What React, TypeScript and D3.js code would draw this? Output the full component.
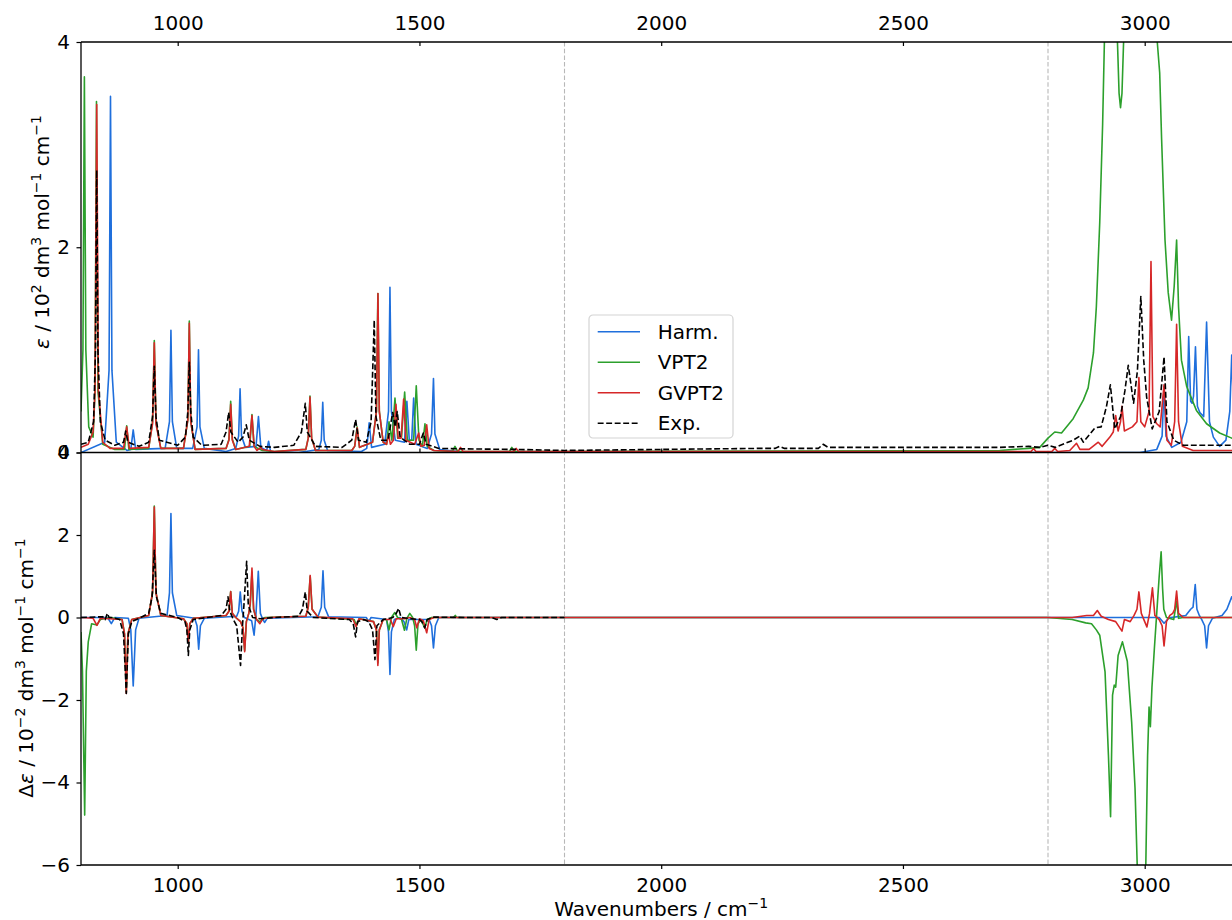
import { useEffect, useRef } from "react";
import * as d3 from "d3";

type Pt = [number, number];

// ---- data ----
const xTicks = [1000, 1500, 2000, 2500, 3000];
const yTicksTop = [0, 2, 4];
const yTicksBottom = [-6, -4, -2, 0, 2, 4];
const guideLines = [1800, 2800];
const seriesNames = ["Harm.", "VPT2", "GVPT2", "Exp."];

// epsilon / 10^2 dm3 mol-1 cm-1
const harmTop: Pt[] = [
  [800, 0], [849, 0.1], [858, 0.8], [861, 3.47], [864, 0.8], [873, 0.1],
  [895, 0.02], [903, 0.03], [908, 0.22], [913, 0.03],
  [974, 0.04], [983, 0.3], [986, 1.19], [989, 0.3], [998, 0.04],
  [1031, 0.04], [1040, 0.25], [1043, 1.0], [1046, 0.25], [1055, 0.04],
  [1100, 0.01], [1120, 0.04], [1126, 0.16], [1129, 0.62], [1132, 0.16], [1140, 0.05],
  [1162, 0.06], [1167, 0.35], [1172, 0.05], [1184, 0.02], [1188, 0.11], [1192, 0.01],
  [1250, 0], [1292, 0.03], [1297, 0.12], [1300, 0.49], [1303, 0.12], [1310, 0.02],
  [1380, 0.01], [1391, 0.04], [1396, 0.29], [1401, 0.05],
  [1428, 0.08], [1436, 0.4], [1439, 1.61], [1442, 0.4], [1450, 0.12],
  [1469, 0.1], [1474, 0.5], [1479, 0.12], [1484, 0.12], [1488, 0.53], [1493, 0.08],
  [1516, 0.04], [1525, 0.18], [1529, 0.72], [1532, 0.18], [1542, 0.03],
  [1600, 0], [2990, 0], [3025, 0.03], [3036, 0.16], [3040, 0.64], [3044, 0.16], [3056, 0.05],
  [3075, 0.1], [3087, 0.3], [3091, 1.13], [3095, 0.5], [3098, 0.48], [3101, 0.55], [3105, 1.03],
  [3109, 0.45], [3114, 0.39], [3122, 0.35], [3128, 1.27], [3134, 0.3], [3142, 0.15], [3155, 0.06],
  [3168, 0.12], [3176, 0.4], [3180, 0.95], [3184, 0.4], [3195, 0.1], [3200, 0.06],
];

const vpt2Top: Pt[] = [
  [800, 0.4], [804, 1.0], [807, 3.66], [810, 1.0], [816, 0.25], [825, 0.15],
  [829, 0.6], [832, 3.42], [835, 0.6], [845, 0.08], [870, 0.03], [890, 0.03], [894.5, 0.26], [899, 0.03],
  [940, 0.04], [948, 0.3], [951.6, 1.09], [955, 0.3], [965, 0.04],
  [1012, 0.04], [1021, 0.32], [1024, 1.28], [1027, 0.3], [1036, 0.03],
  [1100, 0.04], [1106, 0.13], [1109.6, 0.5], [1113, 0.13], [1120, 0.03],
  [1149, 0.06], [1153.6, 0.37], [1158, 0.06], [1175, 0.02], [1200, 0.01],
  [1265, 0.03], [1270, 0.14], [1273.6, 0.55], [1277, 0.14], [1285, 0.02],
  [1360, 0.02], [1366, 0.06], [1371, 0.25], [1376, 0.05],
  [1403, 0.1], [1411, 0.4], [1414, 1.55], [1417, 0.4], [1425, 0.1],
  [1432, 0.08], [1437, 0.3], [1443, 0.12], [1449.4, 0.53], [1455, 0.14],
  [1463, 0.15], [1469.4, 0.59], [1475, 0.12], [1488, 0.12], [1493.4, 0.65], [1499, 0.12],
  [1506, 0.06], [1511.4, 0.28], [1516, 0.06], [1530, 0.02],
  [1568, 0.01], [1573.5, 0.06], [1579, 0.01], [1686, 0.01], [1691, 0.05], [1696, 0.01],
  [2700, 0.02], [2760, 0.04], [2783, 0.05], [2800, 0.14], [2814, 0.2], [2828, 0.19],
  [2852, 0.33], [2873, 0.51], [2883, 0.63], [2894, 0.97], [2900, 1.42], [2907, 2.24],
  [2913, 3.2], [2918, 4.3], [2930, 6], [2940, 4.5], [2944, 3.95], [2947, 3.5], [2950, 3.36],
  [2953, 3.5], [2956, 3.95], [2960, 4.5], [3000, 6], [3022, 4.5], [3026, 4.0], [3031, 3.7],
  [3035, 3.05], [3042, 2.07], [3048.6, 1.56], [3055.5, 1.29], [3061, 1.62], [3066, 2.07],
  [3070, 1.42], [3076, 0.9], [3087, 0.64], [3107, 0.41], [3128, 0.28], [3155, 0.19],
  [3180, 0.14], [3200, 0.12],
];

const gvpt2Top: Pt[] = [
  [800, 0.05], [815, 0.08], [825, 0.2], [829, 0.6], [832.5, 3.39], [836, 0.6], [845, 0.1],
  [860, 0.04], [888, 0.04], [894.5, 0.25], [900, 0.04],
  [940, 0.05], [948, 0.28], [951.6, 1.07], [955, 0.28], [965, 0.04],
  [1012, 0.04], [1021, 0.32], [1024, 1.26], [1027, 0.3], [1036, 0.03],
  [1100, 0.04], [1106, 0.12], [1109.6, 0.47], [1113, 0.12], [1120, 0.03],
  [1148, 0.06], [1153.6, 0.36], [1158, 0.06], [1164, 0.02], [1172, 0.05], [1175, 0.03],
  [1200, 0.01], [1265, 0.03], [1270, 0.14], [1273.6, 0.54], [1277, 0.14], [1285, 0.02],
  [1360, 0.02], [1366, 0.06], [1371.4, 0.24], [1376, 0.05],
  [1403, 0.1], [1411, 0.4], [1414.2, 1.55], [1417, 0.4], [1425, 0.1],
  [1432, 0.08], [1436, 0.18], [1440, 0.08], [1446, 0.12], [1451.4, 0.47], [1456, 0.14],
  [1462, 0.14], [1467.3, 0.52], [1472, 0.12], [1490, 0.08], [1498.4, 0.19], [1503, 0.06],
  [1510, 0.07], [1515, 0.27], [1520, 0.04], [1530, 0.02],
  [1580, 0.01], [1585, 0.05], [1590, 0.01], [1695, 0.01], [1700, 0.04], [1705, 0.01],
  [2765, 0.01], [2770, 0.04], [2775, 0.01], [2808, 0.01], [2814, 0.04], [2820, 0.01],
  [2845, 0.02], [2859, 0.09], [2866, 0.03], [2885, 0.03], [2904, 0.1], [2912, 0.06],
  [2928, 0.15], [2935, 0.2], [2940, 0.36], [2945, 0.21], [2950, 0.3], [2953, 0.45], [2958, 0.21],
  [2974.5, 0.25], [2984, 0.3], [2988, 0.73], [2992, 0.3], [3000, 0.25], [3009, 0.4], [3013, 1.86],
  [3017, 0.35], [3025, 0.28], [3032, 0.25], [3040, 0.66], [3046, 0.12], [3055, 0.07],
  [3062, 0.3], [3066, 1.25], [3070, 0.3], [3078, 0.06], [3100, 0.02], [3200, 0.02],
];

const expTop: Pt[] = [
  [800, 0.08], [815, 0.1], [826, 0.3], [830, 1.0], [832.5, 2.75], [835, 1.0], [840, 0.3],
  [850, 0.12], [870, 0.07], [888, 0.1], [892.4, 0.21], [897, 0.1], [920, 0.06],
  [940, 0.1], [948, 0.35], [951.6, 0.84], [955, 0.35], [962, 0.12], [1000, 0.07],
  [1016, 0.15], [1021, 0.4], [1024, 0.88], [1027, 0.4], [1032, 0.15], [1050, 0.07],
  [1090, 0.08], [1100, 0.2], [1105.4, 0.39], [1110, 0.2], [1125, 0.1], [1135, 0.15],
  [1141.8, 0.27], [1148, 0.12], [1170, 0.06], [1200, 0.05], [1240, 0.07], [1256, 0.2],
  [1263.9, 0.48], [1268, 0.2], [1285, 0.06], [1340, 0.05], [1360, 0.12], [1368, 0.32],
  [1374, 0.12], [1390, 0.1], [1400, 0.3], [1406.5, 1.29], [1410, 0.35], [1420, 0.12],
  [1435, 0.12], [1444.6, 0.39], [1450, 0.25], [1454, 0.4], [1460, 0.15], [1480, 0.08],
  [1500, 0.08], [1508, 0.19], [1514, 0.08], [1540, 0.04], [1600, 0.035], [1700, 0.03],
  [1800, 0.02], [2000, 0.03], [2200, 0.04], [2235, 0.04], [2245, 0.06], [2255, 0.04],
  [2325, 0.04], [2335, 0.08], [2345, 0.05], [2500, 0.05], [2700, 0.05], [2760, 0.06],
  [2783, 0.05], [2800, 0.07], [2815, 0.05], [2852, 0.12], [2866, 0.16], [2873, 0.1],
  [2897, 0.24], [2910, 0.25], [2921, 0.45], [2929, 0.66], [2938, 0.23], [2950, 0.35],
  [2959, 0.6], [2966, 0.85], [2977, 0.48], [2985, 0.8], [2992, 1.52], [2998, 0.9],
  [3004, 0.54], [3015.5, 0.23], [3030, 0.4], [3040, 0.93], [3046, 0.3], [3060, 0.12],
  [3080, 0.07], [3200, 0.07],
];

// delta epsilon / 10^-2 dm3 mol-1 cm-1
const harmDiff: Pt[] = [
  [800, 0], [855, 0], [862.7, -0.15], [870, 0], [898, -0.02], [903, -0.3], [908, -1.66],
  [913, -0.3], [920, -0.02], [978, 0.05], [983, 0.6], [986, 2.52], [989, 0.6], [998, 0.05],
  [1035, -0.02], [1040, -0.2], [1043.4, -0.77], [1047, -0.2], [1055, -0.02],
  [1122, 0.03], [1126, 0.15], [1129.4, 0.62], [1133, 0.15], [1138, 0], [1153, -0.08],
  [1158, -0.43], [1162, 0.1], [1166.7, 1.12], [1171, 0.1], [1176, -0.05], [1180, -0.12],
  [1185, -0.02], [1290, 0.02], [1297, 0.25], [1300.5, 1.13], [1304, 0.25], [1312, 0.02],
  [1390, 0], [1395, -0.1], [1400, 0], [1432, -0.05], [1436, -0.35], [1439, -1.38],
  [1442, -0.35], [1448, -0.05], [1460, 0], [1468, -0.1], [1473.6, -0.3], [1478, -0.05],
  [1520, -0.05], [1525, -0.2], [1529, -0.74], [1533, -0.2], [1540, 0],
  [3030, 0], [3040, -0.14], [3050, -0.01], [3085, 0.05], [3095, 0.2], [3100, 0.25],
  [3104.5, 0.8], [3108, 0.2], [3113, 0.05], [3118, -0.05], [3124, -0.2], [3128, -0.74],
  [3132, -0.2], [3140, -0.02], [3160, 0.05], [3170, 0.2], [3180, 0.5], [3190, 0.2], [3200, 0.1],
];

const vpt2Diff: Pt[] = [
  [800, -0.35], [803, -1.3], [807.6, -4.79], [811, -1.3], [815, -0.59], [822, -0.15],
  [833, -0.18], [840, -0.05], [860, 0], [885, -0.05], [890, -0.4], [893.7, -1.8], [897, -0.4],
  [905, -0.05], [940, 0.05], [948, 0.6], [951.6, 2.7], [955, 0.6], [965, 0.05],
  [1012, -0.03], [1019, -0.15], [1022, -0.6], [1025, -0.15], [1032, -0.02],
  [1100, 0.05], [1106, 0.15], [1109.6, 0.63], [1113, 0.1], [1120, 0], [1130, -0.1],
  [1135, -0.25], [1138.5, -0.8], [1142, -0.1], [1147, 0.1], [1150, 0.3], [1153.6, 1.1],
  [1157, 0.2], [1163, -0.05], [1170, -0.1], [1180, 0], [1265, 0.03], [1270, 0.25],
  [1274, 1.0], [1278, 0.2], [1290, 0.01], [1365, -0.05], [1370, -0.2], [1375, -0.03],
  [1405, -0.1], [1411, -0.3], [1414, -1.1], [1417, -0.3], [1425, -0.05], [1432, -0.05],
  [1437, -0.3], [1442, 0], [1449, 0.12], [1455, 0], [1463, -0.05], [1469, -0.31],
  [1474, -0.02], [1480, 0.1], [1486, 0], [1490, -0.2], [1493.4, -0.79], [1497, -0.15],
  [1503, -0.05], [1511, -0.25], [1516, -0.05], [1525, 0], [1570, 0], [1574, 0.05], [1578, 0],
  [2800, 0], [2850, -0.05], [2878, -0.13], [2890, -0.15], [2900, -0.3], [2907, -0.43],
  [2918, -1.32], [2925, -3.34], [2929.4, -4.83], [2933.5, -1.88], [2937, -1.64], [2940, -1.69],
  [2945, -0.92], [2954, -0.59], [2964, -1.06], [2973, -2.53], [2980, -4.14], [2985, -6.2],
  [2995, -8], [3002, -6.2], [3006, -3.34], [3009, -2.17], [3011.7, -2.65], [3015, -1.69],
  [3020, -0.75], [3026, 0.3], [3030, 1.0], [3034, 1.59], [3037, 0.7], [3039.5, 0.2],
  [3045, 0], [3060, -0.05], [3066, 0.4], [3070, -0.02], [3080, 0], [3200, 0],
];

const gvpt2Diff: Pt[] = [
  [800, 0], [825, -0.02], [833, -0.19], [840, -0.02], [885, -0.05], [890, -0.4],
  [893.7, -1.84], [897, -0.4], [905, -0.05], [940, 0.05], [948, 0.6], [951.6, 2.68],
  [955, 0.6], [965, 0.05], [1012, -0.03], [1019, -0.15], [1022, -0.6], [1025, -0.15],
  [1032, -0.02], [1100, 0.05], [1106, 0.15], [1109.6, 0.63], [1113, 0.1], [1120, 0],
  [1130, -0.1], [1135, -0.25], [1138.5, -0.83], [1142, -0.1], [1147, 0.1], [1150, 0.35],
  [1153.6, 1.2], [1157, 0.2], [1163, -0.05], [1170, -0.15], [1176, -0.03], [1190, 0],
  [1265, 0.03], [1270, 0.25], [1274, 1.02], [1278, 0.2], [1290, 0.01], [1362, -0.03],
  [1369, -0.22], [1375, -0.03], [1405, -0.1], [1411, -0.3], [1414, -1.16], [1417, -0.3],
  [1425, -0.05], [1440, -0.05], [1446, -0.22], [1452, -0.03], [1470, -0.03], [1480, 0],
  [1490, -0.05], [1494.5, -0.25], [1500, -0.03], [1508, -0.08], [1515, -0.37], [1520, -0.05],
  [1530, 0], [2850, 0], [2880, 0.05], [2894, 0.05], [2902, 0.17], [2910, 0.03], [2925, -0.05],
  [2940, -0.1], [2953, -0.33], [2958, -0.05], [2970, -0.1], [2978, 0.05], [2984, 0.2],
  [2988, 0.62], [2993, 0.1], [3000, -0.1], [3004.5, -0.23], [3010, 0.1], [3016, 0.72],
  [3021, 0.05], [3030, -0.05], [3036, -0.2], [3040, -0.69], [3045, -0.1], [3052, 0.05],
  [3058, 0.1], [3062, 0.2], [3066, 0.64], [3070, 0.1], [3080, 0], [3200, 0],
];

const expDiff: Pt[] = [
  [800, 0], [845, 0.02], [850, -0.05], [854.4, 0.1], [858, 0], [865, 0], [880, -0.05],
  [888, -0.4], [893.7, -1.84], [898, -0.4], [905, -0.1], [915, -0.05], [940, 0.1],
  [947, 0.5], [951.6, 1.63], [956, 0.5], [965, 0.1], [1000, 0], [1015, -0.1], [1019, -0.3],
  [1022, -0.92], [1025, -0.3], [1032, -0.05], [1090, 0.05], [1100, 0.2], [1104, 0.5],
  [1108, 0.15], [1115, -0.05], [1122, -0.2], [1130, -1.16], [1134, -0.2], [1137, 0.3],
  [1142.6, 1.36], [1146, 0.3], [1155, 0], [1170, -0.03], [1200, 0], [1250, 0.03],
  [1258, 0.2], [1263.9, 0.62], [1268, 0.15], [1280, 0], [1355, -0.05], [1363, -0.15],
  [1368, -0.47], [1372, -0.1], [1385, -0.05], [1395, -0.1], [1403, -0.3], [1408, -1.02],
  [1412, -0.2], [1425, -0.05], [1445, 0], [1452, 0.1], [1457, 0.22], [1462, 0],
  [1475, -0.02], [1500, -0.05], [1505, -0.1], [1511, -0.25], [1516, -0.05], [1530, 0.01],
  [1600, 0], [1650, 0], [1660, -0.05], [1670, 0], [1800, 0],
];

const topSeries = [harmTop, vpt2Top, gvpt2Top, expTop];
const diffSeries = [harmDiff, vpt2Diff, gvpt2Diff, expDiff];

// ---- styling / layout ----
const STYLES = [
  { color: "#1f6fdc", dash: "none" },
  { color: "#2ca02c", dash: "none" },
  { color: "#d62728", dash: "none" },
  { color: "#000000", dash: "5.9,2.6" },
];
const FONT = "DejaVu Sans, sans-serif";
const PLOT = { x0: 81, x1: 1241.4, yTop: 42, ySplit: 452.5, yBottom: 865 };
const fmt = d3.format("d");

export default function App() {
  const topAxisRef = useRef<SVGGElement>(null);
  const splitAxisRef = useRef<SVGGElement>(null);
  const bottomAxisRef = useRef<SVGGElement>(null);
  const leftTopRef = useRef<SVGGElement>(null);
  const leftBottomRef = useRef<SVGGElement>(null);

  const x = d3.scaleLinear().domain([800, 3200]).range([PLOT.x0, PLOT.x1]);
  const yTop = d3.scaleLinear().domain([0, 4]).range([PLOT.ySplit, PLOT.yTop]);
  const yBot = d3.scaleLinear().domain([-6, 4]).range([PLOT.yBottom, PLOT.ySplit]);

  const lineTop = d3.line<Pt>().x((d) => x(d[0])).y((d) => yTop(d[1]));
  const lineBot = d3.line<Pt>().x((d) => x(d[0])).y((d) => yBot(d[1]));

  useEffect(() => {
    const style = (g: d3.Selection<SVGGElement, unknown, null, undefined>) => {
      g.attr("font-family", FONT).attr("font-size", 20);
      g.select(".domain").remove();
      g.selectAll("line").attr("stroke", "#000").attr("stroke-width", 1.2);
      g.selectAll("text").attr("fill", "#000");
    };

    const top = d3.select(topAxisRef.current!);
    top.selectAll("*").remove();
    top.call(d3.axisTop(x).tickValues(xTicks).tickFormat(fmt).tickSizeInner(-4).tickSizeOuter(0).tickPadding(12));
    style(top);

    // small inward ticks on the shared border of the two panels
    const split = d3.select(splitAxisRef.current!);
    split.selectAll("*").remove();
    split.call(d3.axisTop(x).tickValues(xTicks).tickSizeInner(4).tickSizeOuter(0).tickFormat(() => ""));
    style(split);

    const bottom = d3.select(bottomAxisRef.current!);
    bottom.selectAll("*").remove();
    bottom.call(d3.axisBottom(x).tickValues(xTicks).tickFormat(fmt).tickSizeInner(4).tickSizeOuter(0).tickPadding(8.5));
    style(bottom);

    const lt = d3.select(leftTopRef.current!);
    lt.selectAll("*").remove();
    lt.call(d3.axisLeft(yTop).tickValues(yTicksTop).tickFormat(fmt).tickSizeInner(4.5).tickSizeOuter(0).tickPadding(6.5));
    style(lt);

    const lb = d3.select(leftBottomRef.current!);
    lb.selectAll("*").remove();
    lb.call(d3.axisLeft(yBot).tickValues(yTicksBottom).tickFormat(fmt).tickSizeInner(4.5).tickSizeOuter(0).tickPadding(6.5));
    style(lb);
  }, []);

  const legendX = 589;
  const legendY = 315;

  return (
    <svg
      width={1232}
      height={920}
      style={{ position: "absolute", left: 0, top: 0, background: "#fff" }}
      fontFamily={FONT}
    >
      <defs>
        <clipPath id="clip-top">
          <rect x={PLOT.x0} y={PLOT.yTop} width={PLOT.x1 - PLOT.x0} height={PLOT.ySplit - PLOT.yTop} />
        </clipPath>
        <clipPath id="clip-bottom">
          <rect x={PLOT.x0} y={PLOT.ySplit} width={PLOT.x1 - PLOT.x0} height={PLOT.yBottom - PLOT.ySplit} />
        </clipPath>
      </defs>

      {/* dashed guides at the region boundaries */}
      {guideLines.map((g) => (
        <line
          key={g}
          x1={x(g)}
          x2={x(g)}
          y1={PLOT.yTop}
          y2={PLOT.yBottom}
          stroke="#b8b8b8"
          strokeWidth={1.1}
          strokeDasharray="4.5,2.2"
        />
      ))}

      {/* spectra */}
      <g clipPath="url(#clip-top)">
        {topSeries.map((s, i) => (
          <path
            key={i}
            d={lineTop(s) ?? ""}
            fill="none"
            stroke={STYLES[i].color}
            strokeWidth={1.6}
            strokeDasharray={STYLES[i].dash}
            strokeLinejoin="round"
          />
        ))}
      </g>
      <g clipPath="url(#clip-bottom)">
        {diffSeries.map((s, i) => (
          <path
            key={i}
            d={lineBot(s) ?? ""}
            fill="none"
            stroke={STYLES[i].color}
            strokeWidth={1.6}
            strokeDasharray={STYLES[i].dash}
            strokeLinejoin="round"
          />
        ))}
      </g>

      {/* spines */}
      <g stroke="#000" strokeWidth={1.3}>
        <line x1={PLOT.x0} x2={PLOT.x0} y1={PLOT.yTop} y2={PLOT.yBottom} />
        <line x1={PLOT.x0} x2={PLOT.x1} y1={PLOT.yTop} y2={PLOT.yTop} />
        <line x1={PLOT.x0} x2={PLOT.x1} y1={PLOT.ySplit} y2={PLOT.ySplit} />
        <line x1={PLOT.x0} x2={PLOT.x1} y1={PLOT.yBottom} y2={PLOT.yBottom} />
      </g>

      {/* axes */}
      <g ref={topAxisRef} transform={`translate(0,${PLOT.yTop})`} />
      <g ref={splitAxisRef} transform={`translate(0,${PLOT.ySplit})`} />
      <g ref={bottomAxisRef} transform={`translate(0,${PLOT.yBottom})`} />
      <g ref={leftTopRef} transform={`translate(${PLOT.x0},0)`} />
      <g ref={leftBottomRef} transform={`translate(${PLOT.x0},0)`} />

      {/* axis labels */}
      <text x={(PLOT.x0 + PLOT.x1) / 2} y={916} textAnchor="middle" fontSize={20}>
        Wavenumbers / cm<tspan dy={-8} fontSize={14}>−1</tspan>
      </text>
      <text transform="translate(49,232) rotate(-90)" textAnchor="middle" fontSize={20}>
        <tspan fontStyle="italic">ε</tspan> / 10
        <tspan dy={-8} fontSize={14}>2</tspan>
        <tspan dy={8}> dm</tspan>
        <tspan dy={-8} fontSize={14}>3</tspan>
        <tspan dy={8}> mol</tspan>
        <tspan dy={-8} fontSize={14}>−1</tspan>
        <tspan dy={8}> cm</tspan>
        <tspan dy={-8} fontSize={14}>−1</tspan>
      </text>
      <text transform="translate(33,668) rotate(-90)" textAnchor="middle" fontSize={20}>
        Δ<tspan fontStyle="italic">ε</tspan> / 10
        <tspan dy={-8} fontSize={14}>−2</tspan>
        <tspan dy={8}> dm</tspan>
        <tspan dy={-8} fontSize={14}>3</tspan>
        <tspan dy={8}> mol</tspan>
        <tspan dy={-8} fontSize={14}>−1</tspan>
        <tspan dy={8}> cm</tspan>
        <tspan dy={-8} fontSize={14}>−1</tspan>
      </text>

      {/* legend */}
      <g transform={`translate(${legendX},${legendY})`}>
        <rect
          width={144}
          height={123}
          rx={4}
          fill="#fff"
          fillOpacity={0.8}
          stroke="#d4d4d4"
          strokeWidth={1.2}
        />
        {seriesNames.map((name, i) => {
          const yy = 16.7 + i * 30.5;
          return (
            <g key={name}>
              <line
                x1={8.7}
                x2={51}
                y1={yy}
                y2={yy}
                stroke={STYLES[i].color}
                strokeWidth={1.6}
                strokeDasharray={STYLES[i].dash}
              />
              <text x={68.7} y={yy} dy="0.36em" fontSize={20}>
                {name}
              </text>
            </g>
          );
        })}
      </g>
    </svg>
  );
}
